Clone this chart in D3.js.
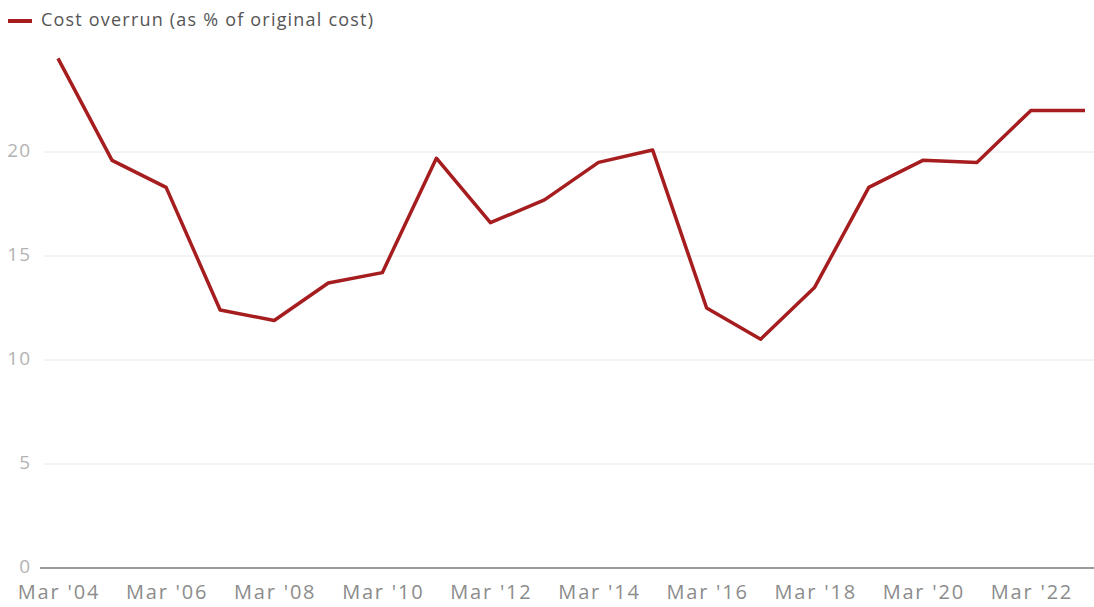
<!DOCTYPE html>
<meta charset="utf-8">
<script src="https://d3js.org/d3.v7.min.js"></script>
<style>
    body { margin: 0; background: #fff; }
    text { font-family: "Open Sans", sans-serif; }
</style>
<div id="my_dataviz"></div>
<script>
    // data (annual, March readings)
    var years = [2004, 2005, 2006, 2007, 2008, 2009, 2010, 2011, 2012, 2013,
                 2014, 2015, 2016, 2017, 2018, 2019, 2020, 2021, 2022, 2023];
    var overrun = [24.5, 19.6, 18.3, 12.4, 11.9, 13.7, 14.2, 19.7, 16.6, 17.7,
                   19.5, 20.1, 12.5, 11.0, 13.5, 18.3, 19.6, 19.5, 22.0, 22.0];
    var yTicks = [0, 5, 10, 15, 20];
    var xTickYears = [2004, 2006, 2008, 2010, 2012, 2014, 2016, 2018, 2020, 2022];
    var seriesName = "Cost overrun (as % of original cost)";

    var width = 1094, height = 607;
    var margin = { top: 48, right: 9, bottom: 39, left: 58 };

    var svg = d3.select("#my_dataviz")
        .append("svg")
        .attr("width", width)
        .attr("height", height);

    var x = d3.scaleLinear()
        .domain([2004, 2023])
        .range([margin.left, width - margin.right]);

    var y = d3.scaleLinear()
        .domain([0, 25])
        .range([height - margin.bottom, margin.top]);

    // gridlines
    svg.append("g")
        .selectAll("line")
        .data(yTicks.filter(function (d) { return d > 0; }))
        .join("line")
        .attr("x1", 44)
        .attr("x2", width)
        .attr("y1", function (d) { return y(d); })
        .attr("y2", function (d) { return y(d); })
        .attr("stroke", "#e8e8e8")
        .attr("stroke-width", 1);

    // baseline
    svg.append("line")
        .attr("x1", 40)
        .attr("x2", width)
        .attr("y1", y(0))
        .attr("y2", y(0))
        .attr("stroke", "#9a9a9a")
        .attr("stroke-width", 2);

    // y labels
    svg.append("g")
        .selectAll("text")
        .data(yTicks)
        .join("text")
        .attr("x", 31)
        .attr("y", function (d) { return y(d); })
        .attr("text-anchor", "end")
        .attr("dominant-baseline", "middle")
        .style("font-size", "19px")
        .style("letter-spacing", "1px")
        .style("fill", "#b3b3b3")
        .text(function (d) { return d; });

    // x labels
    svg.append("g")
        .selectAll("text")
        .data(xTickYears)
        .join("text")
        .attr("x", function (d) { return x(d) + 1; })
        .attr("y", 594)
        .attr("text-anchor", "middle")
        .attr("dominant-baseline", "middle")
        .style("font-size", "20px")
        .style("letter-spacing", "1.8px")
        .style("fill", "#8c8c8c")
        .text(function (d) { return "Mar '" + String(d).slice(2); });

    // line
    var line = d3.line()
        .x(function (d, i) { return x(years[i]); })
        .y(function (d) { return y(d); });

    svg.append("path")
        .datum(overrun)
        .attr("fill", "none")
        .attr("stroke", "#a51d1f")
        .attr("stroke-width", 3.5)
        .attr("stroke-linejoin", "round")
        .attr("d", line);

    // legend
    svg.append("line")
        .attr("x1", 8)
        .attr("x2", 32)
        .attr("y1", 21)
        .attr("y2", 21)
        .attr("stroke", "#a51d1f")
        .attr("stroke-width", 4);

    svg.append("text")
        .attr("x", 41)
        .attr("y", 21)
        .attr("dominant-baseline", "middle")
        .style("font-size", "18px")
        .style("letter-spacing", "1.2px")
        .style("fill", "#555")
        .text(seriesName);
</script>
